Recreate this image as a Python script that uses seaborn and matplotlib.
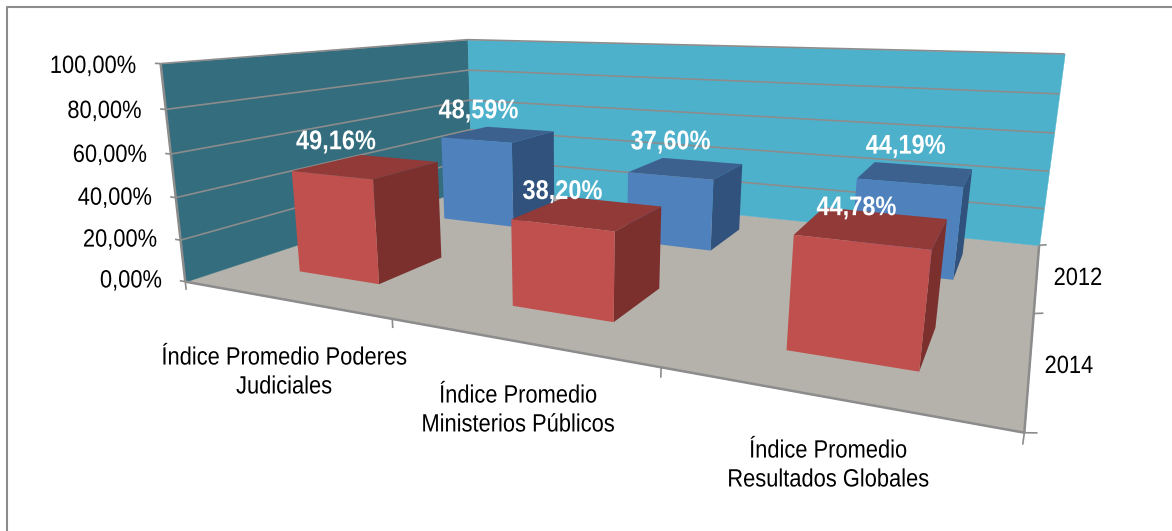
import numpy as np
import matplotlib
matplotlib.use('Agg')
import matplotlib.pyplot as plt
from matplotlib.patheffects import AbstractPathEffect
from matplotlib.transforms import Affine2D
from mpl_toolkits.mplot3d import proj3d
from mpl_toolkits.mplot3d.art3d import Poly3DCollection, Line3DCollection
import seaborn as sns

categorias = ['Índice Promedio Poderes\nJudiciales', 'Índice Promedio\nMinisterios Públicos',
              'Índice Promedio\nResultados Globales']
anios = ['2014', '2012']
valores_2014 = [49.16, 38.20, 44.78]
valores_2012 = [48.59, 37.60, 44.19]
ticks_z = [0, 20, 40, 60, 80, 100]

W, H = 1172, 531
sns.set_theme(style='white')
plt.rcParams['font.family'] = ['Liberation Sans', 'DejaVu Sans']

# corners of the chart box in the picture: (cat, serie, valor) -> pixel
esquinas = [((0, 0, 0), (187, 282)), ((3, 0, 0), (1024, 433)), ((3, 2, 0), (1040, 245)),
            ((0, 2, 0), (470, 187)), ((0, 0, 100), (159, 63)), ((0, 2, 100), (469, 40)),
            ((3, 2, 100), (1064, 54))]


def proyeccion():
    filas = []
    for (x, y, z), (u, v) in esquinas:
        z = z / 100
        filas.append([x, y, z, 1, 0, 0, 0, 0, -u * x, -u * y, -u * z, -u])
        filas.append([0, 0, 0, 0, x, y, z, 1, -v * x, -v * y, -v * z, -v])
    p = np.linalg.svd(np.array(filas, dtype=float))[2][-1].reshape(3, 4)
    p = p / p[2, 3]
    p[:, 2] = p[:, 2] / 100
    # pixels -> 2d limits of Axes3D (square axes, top aligned with the figure)
    s = 0.185 / W
    fx = s * p[0] - 0.095 * p[2]
    fy = 0.09 * p[2] - s * p[1]
    fz = np.array([-0.05 / 3, 0.5, -0.0005, 0.0])
    return np.array([fx, fy, fz, p[2]])


class Estrecho(AbstractPathEffect):
    # the reference uses a narrow font, squeeze the glyphs of each line
    def __init__(self, sx, ancla='center'):
        super().__init__()
        self.sx = sx
        self.ancla = ancla

    def draw_path(self, renderer, gc, tpath, affine, rgbFace=None):
        xs = tpath.vertices[:, 0]
        c = xs.max() if self.ancla == 'right' else (xs.min() + xs.max()) / 2
        t = Affine2D().translate(-c, 0).scale(self.sx, 1).translate(c, 0) + affine
        super().draw_path(renderer, gc, tpath, t, rgbFace)


fig = plt.figure(figsize=(W / 100, H / 100), dpi=100, facecolor='white')
ax = fig.add_axes([0, -(W - H) / H, 1, W / H], projection='3d', computed_zorder=False)
ax.set_axis_off()
M = proyeccion()
ax.get_proj = lambda: M

x_max, y_max, z_max = len(categorias), len(anios), ticks_z[-1]
gris = '#8c8c8c'

paredes = [([(0, 0, 0), (x_max, 0, 0), (x_max, y_max, 0), (0, y_max, 0)], '#b5b2ab'),
           ([(0, 0, 0), (0, y_max, 0), (0, y_max, z_max), (0, 0, z_max)], '#336d7e'),
           ([(0, y_max, 0), (x_max, y_max, 0), (x_max, y_max, z_max), (0, y_max, z_max)], '#4db1cc')]
for verts, color in paredes:
    ax.add_collection3d(Poly3DCollection([verts], facecolors=color, edgecolors=color, linewidths=0.3, zorder=1))


def etiqueta(x, y, z, s, ancla='center', sx=0.875, **kw):
    xp, yp, _ = proj3d.proj_transform(x, y, z, M)
    ax.text2D(xp, yp, s, transform=ax.transData, ha=ancla, va='center', zorder=8,
              path_effects=[Estrecho(sx, ancla)], **kw)


# gridlines and ticks
finas = []
for t in ticks_z[1:]:
    finas.append([(0, 0, t), (0, y_max, t), (x_max, y_max, t)])
for t in ticks_z:
    finas.append([(-0.03, 0, t), (0, 0, t)])
for i in range(x_max + 1):
    finas.append([(i, 0, 0), (i, 0, -4)])
for j in range(y_max + 1):
    finas.append([(x_max, j, 0), (x_max + 0.03, j, 0.7)])
ax.add_collection3d(Line3DCollection(finas, colors=gris, linewidths=1.2, zorder=2), autolim=False)
# axis edges
bordes = [[(0, 0, 0), (0, 0, z_max)], [(0, 0, 0), (x_max, 0, 0)], [(x_max, 0, 0), (x_max, y_max, 0)]]
ax.add_collection3d(Line3DCollection(bordes, colors=gris, linewidths=1.8, zorder=2), autolim=False)

ancho = 0.40
fondo = 0.41
# faces: bottom, top, front, back, left, right
rojo = ['none', '#913a38', '#c0504d', 'none', 'none', '#7b302e']
azul = ['none', '#3c618f', '#4f81bd', 'none', 'none', '#30527c']
series = [(valores_2014, rojo), (valores_2012, azul)]
for j, (vals, caras) in reversed(list(enumerate(series))):
    for i, v in enumerate(vals):
        ax.bar3d(i + 0.505 - ancho / 2, j + 0.5 - fondo / 2, 0, ancho, fondo, v, color=caras,
                 shade=False, linewidth=0, zorder=5 - j)

# Excel moves the data labels up and left of each bar
despl_x = [[0.145, 0.10, 0.05], [0.11, 0.075, 0.045]]
despl_z = [[10.5, 8.0, 6.5], [13.0, 13.5, 13.0]]
for j, (vals, _) in enumerate(series):
    for i, v in enumerate(vals):
        etiqueta(i + 0.5 - despl_x[j][i], j + 0.5, v + despl_z[j][i], f'{v:.2f}%'.replace('.', ','),
                 sx=0.87, color='white', fontsize=19.5, fontweight='bold')

for t in ticks_z:
    etiqueta(-0.13, 0, t - 1.5, f'{t:.2f}%'.replace('.', ','), ancla='right', color='black', fontsize=18)


def px(x, y):
    return x / W, 1 - y / H


for s, (x, y) in zip(categorias, [(284, 372), (518, 410), (828, 465)]):
    fig.text(*px(x, y), s, color='black', fontsize=18, ha='center', va='center', linespacing=1.26,
             path_effects=[Estrecho(0.875)])
fig.text(*px(1078, 278), anios[1], color='black', fontsize=18, ha='center', va='center',
         path_effects=[Estrecho(0.875)])
fig.text(*px(1069, 366), anios[0], color='black', fontsize=18, ha='center', va='center',
         path_effects=[Estrecho(0.875)])

# chart frame, only left and top are visible
fig.add_artist(plt.Line2D([6.5 / W, 6.5 / W, 1], [0, 1 - 6.5 / H, 1 - 6.5 / H], color=gris, lw=1.5))

fig.savefig('out.png', dpi=100)
